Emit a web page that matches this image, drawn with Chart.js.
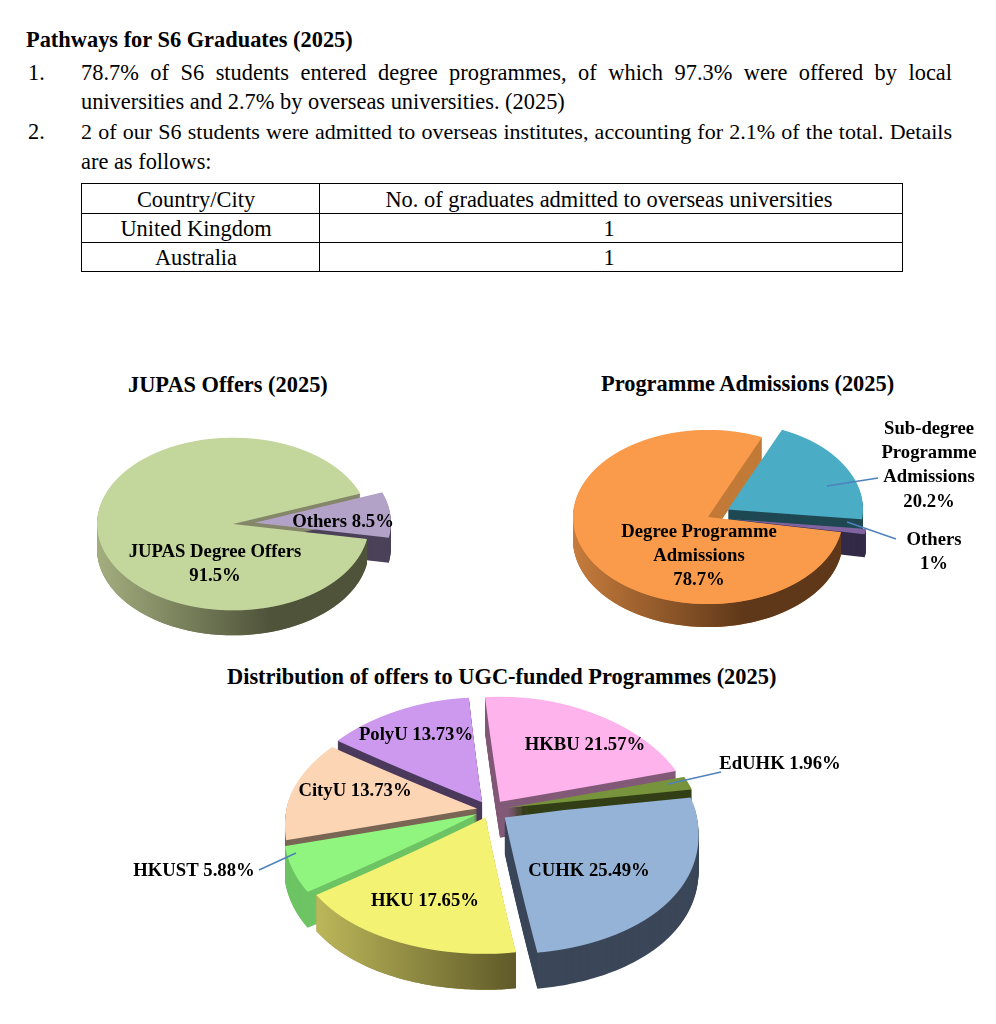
<!DOCTYPE html>
<html>
<head>
<meta charset="utf-8">
<title>Pathways for S6 Graduates (2025)</title>
<script src="https://cdn.jsdelivr.net/npm/chart.js@4"></script>
<style>
html, body { margin: 0; padding: 0; background: #fff; overflow: hidden; }
body { width: 996px; height: 1024px; position: relative; font-family: "Liberation Serif", serif; color: #000; }
.line { position: absolute; font-size: 22.4px; line-height: 24px; white-space: nowrap; }
.fit { width: 871px; text-align: justify; text-align-last: justify; white-space: normal; }
.head { position: absolute; font-weight: bold; font-size: 22.4px; line-height: 24px; white-space: nowrap; }
table { position: absolute; left: 81px; top: 183px; width: 822px; border-collapse: collapse; font-size: 22.4px; table-layout: fixed; }
td { border: 1.5px solid #000; padding: 2px 4px 0 0; text-align: center; line-height: 22px; height: 26px; }
td:first-child { padding-right: 9px; }
tr:first-child td { height: 27px; }
canvas { position: absolute; }
</style>
</head>
<body>
<div class="head" style="left:26px;top:28px">Pathways for S6 Graduates (2025)</div>
<div class="line" style="left:28px;top:61px">1.</div>
<div class="line fit" style="left:81px;top:61px">78.7% of S6 students entered degree programmes, of which 97.3% were offered by local</div>
<div class="line" style="left:81px;top:90px">universities and 2.7% by overseas universities. (2025)</div>
<div class="line" style="left:28px;top:120px">2.</div>
<div class="line fit" style="left:81px;top:120px;font-size:22px">2 of our S6 students were admitted to overseas institutes, accounting for 2.1% of the total. Details</div>
<div class="line" style="left:81px;top:150px">are as follows:</div>

<table>
  <colgroup><col style="width:238px"><col></colgroup>
  <tr><td>Country/City</td><td>No. of graduates admitted to overseas universities</td></tr>
  <tr><td>United Kingdom</td><td>1</td></tr>
  <tr><td>Australia</td><td>1</td></tr>
</table>

<div class="head" style="left:128px;top:373px">JUPAS Offers (2025)</div>
<div class="head" style="left:601px;top:372px">Programme Admissions (2025)</div>
<div class="head" style="left:227px;top:665px">Distribution of offers to UGC-funded Programmes (2025)</div>

<canvas id="jupasChart" width="340" height="340" style="left:63px;top:354px"></canvas>
<canvas id="admissionChart" width="560" height="300" style="left:428px;top:367px"></canvas>
<canvas id="ugcChart" width="800" height="400" style="left:90px;top:610px"></canvas>

<script>
var jupasLabels = [["JUPAS Degree Offers"], ["Others"]];
var jupasValues = [91.5, 8.5];

var admissionLabels = [["Degree Programme", "Admissions"], ["Sub-degree", "Programme", "Admissions"], ["Others"]];
var admissionValues = [78.7, 20.2, 1];

var ugcLabels = [["CUHK"], ["HKU"], ["HKUST"], ["CityU"], ["PolyU"], ["HKBU"], ["EdUHK"]];
var ugcValues = [25.49, 17.65, 5.88, 13.73, 13.73, 21.57, 1.96];

// fake 3D: faces are squashed row by row (nearer rows wider), walls are swept down below them
var pie3d = {
	id: 'pie3d',
	beforeDatasetsDraw: function(chart, args, o) {
		var ctx = chart.ctx;
		var arcs = chart.getDatasetMeta(0).data;
		var cx = arcs[0].x, cy = arcs[0].y;
		var W = chart.width, H = chart.height;

		function mid(a) { return (a.startAngle + a.endAngle) / 2; }
		function shift(i) {
			var m = mid(arcs[i]);
			return [Math.cos(m) * o.explode[i], Math.sin(m) * o.explode[i]];
		}
		function project(x, y) {
			var dy = y * (y < 0 ? o.kTop : o.kBottom);
			return [cx + x * (1 + o.persp * dy), cy + dy];
		}
		function rim(i, from, to) {
			var s = shift(i), r = arcs[i].outerRadius, pts = [];
			for (var n = 0; n <= 80; n++) {
				var t = from + (to - from) * n / 80;
				pts.push(project(s[0] + Math.cos(t) * r, s[1] + Math.sin(t) * r));
			}
			return pts;
		}
		function spoke(i, t, out) {
			var s = shift(i), r = arcs[i].outerRadius, pts = [];
			for (var n = 0; n <= 30; n++) {
				var f = (out ? n : 30 - n) / 30 * r;
				pts.push(project(s[0] + Math.cos(t) * f, s[1] + Math.sin(t) * f));
			}
			return pts;
		}
		function fillPts(pts, dy) {
			ctx.beginPath();
			pts.forEach(function(p, n) {
				if (n == 0) ctx.moveTo(p[0], p[1] + dy); else ctx.lineTo(p[0], p[1] + dy);
			});
			ctx.closePath();
			ctx.fill();
		}

		// walls, back to front
		var order = arcs.map(function(a, i) { return i; });
		order.sort(function(a, b) { return Math.sin(mid(arcs[a])) - Math.sin(mid(arcs[b])); });
		order.forEach(function(i) {
			var a = arcs[i];
			var wedge = spoke(i, a.startAngle, true)
				.concat(rim(i, a.startAngle, a.endAngle))
				.concat(spoke(i, a.endAngle, false));
			ctx.fillStyle = o.wall[i];
			for (var d = o.depth; d > 0; d--) fillPts(wedge, d);

			var g = o.shade[i];
			if (g) {
				// curved outer wall only, cut faces keep the flat colour
				var from = Math.max(a.startAngle, 0), to = Math.min(a.endAngle, Math.PI);
				var top = rim(i, from, to);
				var bottom = top.map(function(p) { return [p[0], p[1] + o.depth]; }).reverse();
				var grad = ctx.createLinearGradient(g[0] - o.left, 0, g[1] - o.left, 0);
				grad.addColorStop(0, g[2]);
				grad.addColorStop(1, g[3]);
				ctx.fillStyle = grad;
				fillPts(top.concat(bottom), 0);
			}
		});

		// faces, through the library's own arc element, one pixel row at a time
		for (var row = 0; row < H; row++) {
			var dy = row + 0.5 - cy;
			ctx.save();
			ctx.beginPath();
			ctx.rect(0, row, W, 1);
			ctx.clip();
			ctx.translate(cx, cy);
			ctx.scale(1 + o.persp * dy, dy < 0 ? o.kTop : o.kBottom);
			ctx.translate(-cx, -cy);
			arcs.forEach(function(a, i) {
				var s = shift(i);
				ctx.save();
				ctx.translate(s[0], s[1]);
				a.draw(ctx);
				ctx.restore();
			});
			ctx.restore();
		}
		return false;
	},
	afterDraw: function(chart, args, o) {
		var ctx = chart.ctx;
		ctx.save();
		ctx.strokeStyle = '#4F81BD';
		ctx.lineWidth = 1.4;
		o.leaders.forEach(function(l) {
			ctx.beginPath();
			ctx.moveTo(l[0] - o.left, l[1] - o.top);
			ctx.lineTo(l[2] - o.left, l[3] - o.top);
			ctx.stroke();
		});
		ctx.fillStyle = '#000';
		ctx.font = 'bold ' + o.fontSize + 'px "Liberation Serif"';
		ctx.textAlign = 'center';
		ctx.textBaseline = 'middle';
		var values = chart.data.datasets[0].data;
		chart.data.labels.forEach(function(name, i) {
			var spot = o.spots[i];
			var lines = spot.inline
				? [name.join(' ') + ' ' + values[i] + '%']
				: name.concat([values[i] + '%']);
			lines.forEach(function(t, n) {
				var y = spot.y + 1 + (n - (lines.length - 1) / 2) * o.lineGap;
				ctx.fillText(t, spot.x - o.left, y - o.top);
			});
		});
		ctx.restore();
	}
};

function buildPie(id, labels, values, colors, rotation, radius, look) {
	var ctx = document.getElementById(id).getContext('2d');
	return new Chart(ctx, {
		type: 'pie',
		plugins: [pie3d],
		data: {
			labels: labels,
			datasets: [{
				data: values,
				backgroundColor: colors,
				borderWidth: 0,
				radius: radius
			}]
		},
		options: {
			responsive: false,
			animation: false,
			rotation: rotation,
			plugins: {
				legend: { display: false },
				tooltip: { enabled: false },
				pie3d: look
			}
		}
	});
}

buildPie('jupasChart', jupasLabels, jupasValues, ['#C3D69B', '#B3A2C7'], 100, 136, {
	left: 63, top: 354, kTop: 0.635, kBottom: 0.635, persp: 0, depth: 25,
	explode: [0, 22],
	wall: ['#85876A', '#4B4259'],
	shade: [[97, 270, '#A3AE7E', '#4F533A'], null],
	leaders: [],
	fontSize: 18.7, lineGap: 23.5,
	spots: [{ x: 215, y: 563 }, { x: 343, y: 521, inline: true }]
});

buildPie('admissionChart', admissionLabels, admissionValues, ['#FA9A4B', '#4BACC6', '#8064A2'], 100, 135, {
	left: 428, top: 367, kTop: 0.645, kBottom: 0.645, persp: 0, depth: 23,
	explode: [0, 23, 24],
	wall: ['#C27A38', '#1F4852', '#332A47'],
	shade: [[573, 745, '#C67C3C', '#5F3819'], null, null],
	leaders: [[827, 486, 878, 478], [847, 522, 896, 539]],
	fontSize: 18.7, lineGap: 24.3,
	spots: [{ x: 699, y: 555 }, { x: 929, y: 464.5 }, { x: 934, y: 551 }]
});

buildPie('ugcChart', ugcLabels, ugcValues, ['#95B3D7', '#F3F272', '#90F57E', '#FCD5B5', '#CC99EE', '#FFB3EC', '#77933C'], 80, 191, {
	left: 90, top: 610, kTop: 0.55, kBottom: 0.715, persp: 0.0009, depth: 36,
	explode: [18, 11, 14, 13, 16, 18, 18],
	wall: ['#3B4759', '#8A8A40', '#6EC464', '#7A6655', '#4B3A5C', '#825A78', '#333F16'],
	shade: [null, [314, 516, '#BDB85A', '#5F5A28'], null, null, null, null, null],
	leaders: [[668, 784, 721, 772], [259, 870, 296, 853]],
	fontSize: 18.7, lineGap: 24,
	spots: [{ x: 589, y: 870, inline: true }, { x: 425, y: 900, inline: true }, { x: 194, y: 870, inline: true },
		{ x: 355, y: 790, inline: true }, { x: 416, y: 734, inline: true }, { x: 585, y: 744, inline: true }, { x: 780, y: 763, inline: true }]
});
</script>
</body>
</html>
